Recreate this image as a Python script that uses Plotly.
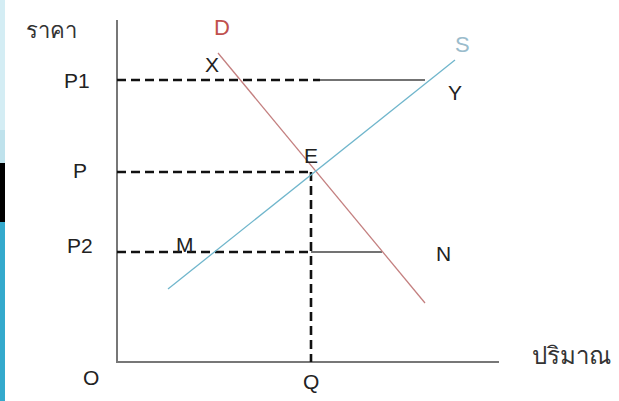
import plotly.graph_objects as go

# ค่าในหน่วยของกราฟ (จุดกำเนิด O = 0,0)
price_levels = {"P1": 28.2, "P": 19.0, "P2": 11.0}
q_eq = 19.4
axis_top = 34.2
axis_right = 38.2

demand_x = [10.1, 30.8]
demand_y = [30.9, 5.9]
supply_x = [5.1, 33.8]
supply_y = [7.3, 30.2]

# จุดตัดกับเส้นราคา
y_point = 30.8   # Y บน S ที่ P1
n_point = 26.5   # N บน D ที่ P2
dash_end_p1 = 20.3

fig = go.Figure()

dash_style = dict(color="#111111", width=2.6, dash="9px,5px")
thin_style = dict(color="#444444", width=1.4)
axis_style = dict(color="#777777", width=2)

# แกน
fig.add_trace(go.Scatter(x=[0, 0, axis_right], y=[axis_top, 0, 0], mode="lines", line=axis_style))

# เส้นราคา P1
fig.add_trace(go.Scatter(x=[0, dash_end_p1], y=[price_levels["P1"]] * 2, mode="lines", line=dash_style))
fig.add_trace(go.Scatter(x=[dash_end_p1, y_point], y=[price_levels["P1"]] * 2, mode="lines", line=thin_style))

# เส้นราคา P และ Q
fig.add_trace(go.Scatter(x=[0, q_eq], y=[price_levels["P"]] * 2, mode="lines", line=dash_style))
fig.add_trace(go.Scatter(x=[q_eq, q_eq], y=[price_levels["P"], 0], mode="lines", line=dash_style))

# เส้นราคา P2
fig.add_trace(go.Scatter(x=[0, q_eq], y=[price_levels["P2"]] * 2, mode="lines", line=dash_style))
fig.add_trace(go.Scatter(x=[q_eq, n_point], y=[price_levels["P2"]] * 2, mode="lines", line=thin_style))

# อุปสงค์ / อุปทาน
fig.add_trace(go.Scatter(x=demand_x, y=demand_y, mode="lines",
                         line=dict(color="rgb(196,128,128)", width=1.3)))
fig.add_trace(go.Scatter(x=supply_x, y=supply_y, mode="lines",
                         line=dict(color="rgb(112,182,204)", width=1.3)))

labels = [
    ("ราคา", -6.6, 33.2, "#333333", 22),
    ("D", 10.5, 33.5, "#c0504d", 22),
    ("S", 34.5, 31.8, "#9bbccc", 22),
    ("X", 9.5, 29.8, "#222222", 21),
    ("Y", 33.8, 27.0, "#222222", 21),
    ("E", 19.4, 20.7, "#222222", 21),
    ("M", 6.8, 11.8, "#222222", 21),
    ("N", 32.6, 10.9, "#222222", 21),
    ("P1", -4.0, 28.2, "#222222", 21),
    ("P", -3.7, 19.2, "#222222", 21),
    ("P2", -3.7, 11.7, "#222222", 21),
    ("O", -2.6, -1.5, "#222222", 21),
    ("Q", q_eq, -1.9, "#222222", 21),
    ("ปริมาณ", 45.4, 0.7, "#333333", 24),
]
for text, lx, ly, col, size in labels:
    fig.add_annotation(x=lx, y=ly, text=text, showarrow=False,
                       font=dict(family="Liberation Sans, Noto Sans, sans-serif", size=size, color=col))

# แถบตกแต่งด้านซ้าย
strip = [(0, 130, "#d4edf4"), (130, 163, "#bfe2ec"), (163, 222, "#000000"), (222, 401, "#34a9cc")]
for y0, y1, col in strip:
    fig.add_shape(type="rect", xref="paper", yref="paper", x0=0, x1=5 / 619,
                  y0=1 - y1 / 401, y1=1 - y0 / 401, fillcolor=col, line=dict(width=0), layer="below")

fig.update_layout(
    width=619, height=401,
    margin=dict(l=0, r=0, t=0, b=0),
    showlegend=False,
    plot_bgcolor="white", paper_bgcolor="white",
    xaxis=dict(range=[-11.7, 50.2], visible=False, fixedrange=True),
    yaxis=dict(range=[-3.9, 36.2], visible=False, fixedrange=True),
)

fig.write_html("out.html", config={"displayModeBar": False},
               post_script="document.body.style.margin='0';")
